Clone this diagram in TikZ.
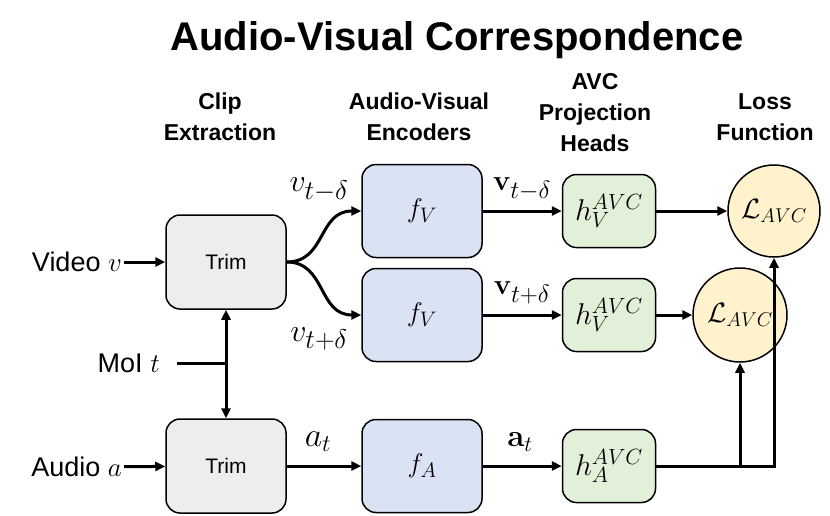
\documentclass[tikz,border=0pt]{standalone}
\usepackage{fix-cm}
\usepackage[no-math]{fontspec}
\setmainfont{Liberation Sans}
\usetikzlibrary{arrows.meta}
\DeclareMathSizes{27}{27}{21}{16}
\DeclareMathSizes{28}{28}{20}{15}
\DeclareMathSizes{29}{29}{25}{20}
\DeclareMathSizes{30}{30}{22}{16}
\DeclareMathSizes{31}{31}{22}{16}
\DeclareMathSizes{32}{32}{27}{20}
\DeclareMathSizes{34}{34}{24}{18}
\definecolor{trimgray}{HTML}{EDEDED}
\definecolor{encblue}{HTML}{DAE3F3}
\definecolor{headgreen}{HTML}{E2F0D9}
\definecolor{lossyellow}{HTML}{FFF2CC}
\begin{document}
\begin{tikzpicture}[x=1pt,y=-1pt,
  box/.style={draw, line width=1.5pt, rounded corners=14pt, inner sep=0pt},
  trimbox/.style={box, fill=trimgray, minimum width=120pt, minimum height=94pt, font=\fontsize{21}{25}\selectfont},
  encbox/.style={box, fill=encblue, minimum width=120pt, minimum height=93pt, font=\fontsize{27}{30}\selectfont},
  headbox/.style={box, fill=headgreen, minimum width=93pt, minimum height=73pt, font=\fontsize{30}{34}\selectfont},
  lossnode/.style={draw, line width=1.5pt, circle, fill=lossyellow, inner sep=0pt, minimum size=#1, font=\fontsize{28}{32}\selectfont},
  hdr/.style={align=center, font=\fontsize{23}{31}\selectfont\bfseries},
  inlabel/.style={font=\fontsize{27}{32}\selectfont, inner sep=2pt},
  vlabel/.style={font=\fontsize{32}{36}\selectfont, inner sep=0pt},
  bvlabel/.style={font=\fontsize{29}{33}\selectfont, inner sep=0pt},
  alabel/.style={font=\fontsize{34}{38}\selectfont, inner sep=0pt},
  balabel/.style={font=\fontsize{31}{35}\selectfont, inner sep=0pt},
  ln/.style={line width=3pt},
  arr/.style={line width=3pt, -{Triangle[length=10pt,width=9pt]}},
  darr/.style={line width=3pt, {Triangle[length=10pt,width=9pt]}-{Triangle[length=10pt,width=9pt]}}
]
\useasboundingbox (0,0) rectangle (830,515);

% title and headers
\node[font=\fontsize{40}{46}\selectfont\bfseries] (title) at (457,40) {Audio-Visual Correspondence};
\node[hdr] (h-clip) at (220,117) {Clip\\Extraction};
\node[hdr] (h-enc) at (419,117) {Audio-Visual\\Encoders};
\node[hdr] (h-proj) at (595,113) {AVC\\Projection\\Heads};
\node[hdr] (h-loss) at (765,117) {Loss\\Function};

% boxes
\node[trimbox] (trim1) at (226,262) {Trim};
\node[trimbox] (trim2) at (226,466) {Trim};
\node[encbox] (fv1) at (422,211) {$f_V$};
\node[encbox] (fv2) at (422,315) {$f_V$};
\node[encbox] (fa) at (422,466) {$f_A$};
\node[headbox] (hv1) at (609,211) {$h_V^{AVC}$};
\node[headbox] (hv2) at (609,315) {$h_V^{AVC}$};
\node[headbox] (ha) at (609,466) {$h_A^{AVC}$};
\node[lossnode=92pt] (l1) at (774,211) {$\mathcal{L}_{AVC}$};
\node[lossnode=94pt] (l2) at (740,315) {$\mathcal{L}_{AVC}$};

% inputs
\node[inlabel, anchor=east] (video) at (124,262) {Video $v$};
\node[inlabel, anchor=east] (moi) at (162,363) {MoI $t$};
\node[inlabel, anchor=east] (audio) at (124,467) {Audio $a$};
\coordinate (moistart) at (177,363);
\coordinate (moij) at (trim1.south |- moistart);

\draw[arr] (video) -- (trim1);
\draw[arr] (audio) -- (trim2);
\draw[ln] (moistart) -- (moij);
\draw[darr] (trim1) -- (trim2);

% branches
\draw[arr] (trim1.east) .. controls (326,262) and (318,211) .. (fv1.west);
\draw[arr] (trim1.east) .. controls (326,262) and (318,315) .. (fv2.west);
\draw[arr] (trim2) -- (fa);

\node[vlabel] (lv1) at (319,190) {$v_{t-\delta}$};
\node[vlabel] (lv2) at (319,339) {$v_{t+\delta}$};
\node[alabel] (lat) at (318,442) {$a_t$};

\draw[arr] (fv1) -- (hv1);
\draw[arr] (fv2) -- (hv2);
\draw[arr] (fa) -- (ha);
\node[bvlabel] (lbv1) at (522,189) {$\mathbf{v}_{t-\delta}$};
\node[bvlabel] (lbv2) at (522,293) {$\mathbf{v}_{t+\delta}$};
\node[balabel] (lba) at (520,442) {$\mathbf{a}_t$};

% to losses
\draw[arr] (hv1) -- (l1);
\draw[arr] (hv2) -- (l2);
\coordinate (c1) at (l1.south |- ha.east);
\coordinate (c2) at (l2.south |- ha.east);
\draw[arr] (ha.east) -- (c1) -- (l1.south);
\draw[arr] (c2) -- (l2.south);
\end{tikzpicture}
\end{document}
